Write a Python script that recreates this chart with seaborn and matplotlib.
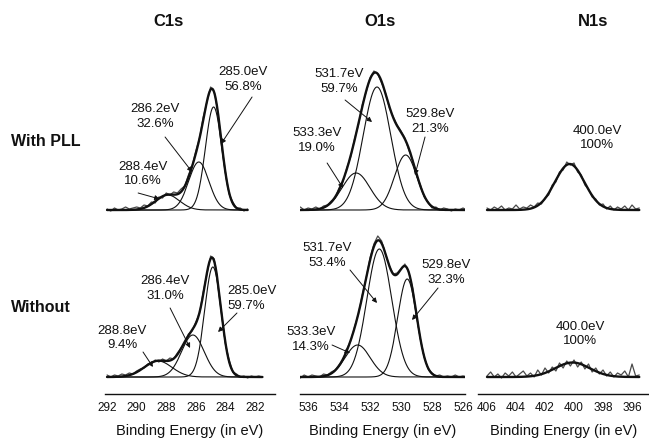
import numpy as np
import matplotlib
matplotlib.use("Agg")
import matplotlib.pyplot as plt
import seaborn as sns

# ------------------------------------------------------------------ data
step = 0.25
# raw (noisy) spectra, intensity in arbitrary units, sampled every 0.25 eV
c1s_pll_start = 292.0
c1s_pll_raw = [1, -1, 2, 0, 1, 3, 1, 2, 3, 2, 5, 4, 8, 7, 13, 12, 17, 15, 18, 17,
               21, 24, 35, 44, 59, 72, 93, 108, 123, 118, 97, 65, 38, 16, 8, 2, 2, -1, 1]
c1s_wo_start = 292.0
c1s_wo_raw = [2, 0, 2, 1, 3, 2, 4, 3, 6, 8, 9, 13, 13, 17, 15, 18, 16, 19, 18, 24,
              29, 34, 43, 46, 55, 64, 85, 103, 121, 118, 92, 63, 33, 17, 5, 3, 0, 1,
              -1, 1, 0, 1, 0]
o1s_pll_start = 536.75
o1s_pll_raw = [1, 3, 0, 2, 1, 3, 1, 4, 5, 9, 12, 22, 28, 42, 53, 71, 85, 105, 118, 132,
               139, 136, 127, 117, 102, 93, 85, 79, 72, 60, 50, 35, 25, 13, 8, 2, 3, 0,
               2, 1, -1, 1, 0, 2, 0]
o1s_wo_start = 536.75
o1s_wo_raw = [1, -1, 2, 0, 2, 1, 0, 3, 2, 5, 7, 12, 17, 28, 36, 50, 63, 82, 99, 119,
              133, 141, 136, 123, 111, 103, 104, 108, 113, 105, 89, 62, 38, 20, 8, 4,
              1, 2, 0, 1, 0, 2, 0, 1, 0]
n1s_pll_start = 406.0
n1s_pll_raw = [2, 0, 3, 1, 4, 0, 2, 1, 5, 1, 3, 2, 5, 3, 7, 6, 12, 15, 25, 28, 38, 40,
               48, 45, 47, 38, 35, 25, 21, 13, 11, 5, 6, 1, 4, 0, 3, 1, 4, 0, 5, 1, 2]
n1s_wo_start = 406.0
n1s_wo_raw = [1, 5, 0, 3, -1, 4, 1, 5, 0, 3, 6, 1, 4, 0, 7, 2, 9, 4, 10, 6, 14, 9, 16,
              11, 17, 10, 15, 8, 13, 5, 9, 3, 7, 1, 5, 0, 4, 2, 6, 0, 13, 1, 2]

# fitted components: centre (eV), height, FWHM (eV)
c1s_pll_centers = [284.8, 285.8, 287.9]
c1s_pll_heights = [103, 48, 15]
c1s_pll_fwhm = [1.3, 1.6, 1.9]
c1s_wo_centers = [284.85, 286.2, 288.55]
c1s_wo_heights = [110, 42, 16]
c1s_wo_fwhm = [1.3, 1.8, 2.2]
o1s_pll_centers = [531.55, 532.9, 529.7]
o1s_pll_heights = [123, 37, 55]
o1s_pll_fwhm = [2.1, 2.1, 1.7]
o1s_wo_centers = [531.4, 532.8, 529.6]
o1s_wo_heights = [128, 32, 98]
o1s_wo_fwhm = [1.9, 1.9, 1.45]
n1s_pll_centers = [400.3]
n1s_pll_heights = [46]
n1s_pll_fwhm = [2.4]
n1s_wo_centers = [400.1]
n1s_wo_heights = [14.5]
n1s_wo_fwhm = [2.8]

# peak labels
c1s_pll_labels = ["285.0eV\n56.8%", "286.2eV\n32.6%", "288.4eV\n10.6%"]
c1s_wo_labels = ["285.0eV\n59.7%", "286.4eV\n31.0%", "288.8eV\n9.4%"]
o1s_pll_labels = ["531.7eV\n59.7%", "533.3eV\n19.0%", "529.8eV\n21.3%"]
o1s_wo_labels = ["531.7eV\n53.4%", "533.3eV\n14.3%", "529.8eV\n32.3%"]
n1s_pll_labels = ["400.0eV\n100%"]
n1s_wo_labels = ["400.0eV\n100%"]

column_titles = ["C1s", "O1s", "N1s"]
row_titles = ["With PLL", "Without"]
xlabel = "Binding Energy (in eV)"
c1s_ticks = [292, 290, 288, 286, 284, 282]
o1s_ticks = [536, 534, 532, 530, 528, 526]
n1s_ticks = [406, 404, 402, 400, 398, 396]

# ------------------------------------------------------------------ layout
W, H = 649, 441
sns.set_style("white")
plt.rcParams["font.family"] = ["Liberation Sans", "DejaVu Sans"]
fig = plt.figure(figsize=(W / 100, H / 100), dpi=100)

col_px = [(105, 170, (292.14, 280.65)), (300, 165, (536.52, 525.87)),
          (478, 171, (406.62, 394.83))]
row_px = [(215, 150, (-5, 145)), (394, 162, (-17, 145))]

# annotation layout: (text x, text y, ha), arrow start, arrow tip  (data coords)
ann_layout = {
    (0, 0): [((282.81, 130.5, "center"), (282.2, 113), (284.3, 66)),
             ((288.76, 93.5, "center"), (288.08, 73), (286.25, 38)),
             ((289.6, 36, "center"), (289.9, 17), (288.45, 11))],
    (0, 1): [((534.0, 128.5, "center"), (533.61, 110), (531.87, 88)),
             ((535.42, 69.5, "center"), (534.77, 47), (533.74, 22)),
             ((528.13, 88.5, "center"), (528.45, 73), (529.1, 35))],
    (0, 2): [((398.41, 72, "center"), None, None)],
    (1, 0): [((283.85, 78.5, "left"), (283.22, 64), (284.5, 45)),
             ((288.08, 88.5, "center"), (287.74, 69), (286.39, 29)),
             ((290.99, 39, "center"), (289.57, 25), (288.9, 10))],
    (1, 1): [((534.77, 121.5, "center"), (533.29, 107), (531.55, 74)),
             ((535.8, 37.5, "center"), (534.45, 32), (533.29, 24)),
             ((527.1, 104.5, "center"), (527.61, 89), (529.29, 57))],
    (1, 2): [((399.59, 43, "center"), None, None)],
}

panels = {
    (0, 0): (c1s_pll_start, c1s_pll_raw, c1s_pll_centers, c1s_pll_heights, c1s_pll_fwhm, c1s_pll_labels),
    (0, 1): (o1s_pll_start, o1s_pll_raw, o1s_pll_centers, o1s_pll_heights, o1s_pll_fwhm, o1s_pll_labels),
    (0, 2): (n1s_pll_start, n1s_pll_raw, n1s_pll_centers, n1s_pll_heights, n1s_pll_fwhm, n1s_pll_labels),
    (1, 0): (c1s_wo_start, c1s_wo_raw, c1s_wo_centers, c1s_wo_heights, c1s_wo_fwhm, c1s_wo_labels),
    (1, 1): (o1s_wo_start, o1s_wo_raw, o1s_wo_centers, o1s_wo_heights, o1s_wo_fwhm, o1s_wo_labels),
    (1, 2): (n1s_wo_start, n1s_wo_raw, n1s_wo_centers, n1s_wo_heights, n1s_wo_fwhm, n1s_wo_labels),
}
ticks = [c1s_ticks, o1s_ticks, n1s_ticks]

ink = "#111111"
for (r, c), (start, raw, cen, hts, fw, labels) in panels.items():
    left, width, xlim = col_px[c]
    bottom, height, ylim = row_px[r]
    ax = fig.add_axes([left / W, 1 - bottom / H, width / W, height / H])
    energy = start - step * np.arange(len(raw))
    fine = np.linspace(energy.min(), energy.max(), 800)
    comps = [h * np.exp(-4 * np.log(2) * (fine - c0) ** 2 / w ** 2)
             for c0, h, w in zip(cen, hts, fw)]
    sns.lineplot(x=energy, y=raw, ax=ax, color="#4a4a4a", lw=0.9,
                 estimator=None, sort=False, legend=False)
    if len(comps) > 1:
        for comp in comps:
            sns.lineplot(x=fine, y=comp, ax=ax, color=ink, lw=0.8,
                         estimator=None, sort=False, legend=False)
    sns.lineplot(x=fine, y=np.sum(comps, axis=0), ax=ax, color=ink, lw=1.7,
                 estimator=None, sort=False, legend=False)
    ax.set_xlim(*xlim)
    ax.set_ylim(*ylim)
    ax.set_yticks([])
    ax.set_ylabel("")
    for lab, ((tx, ty, ha), a0, a1) in zip(labels, ann_layout[(r, c)]):
        ax.text(tx, ty, lab, ha=ha, va="center", fontsize=9.5, color=ink,
                linespacing=1.25, multialignment=ha)
        if a0 is not None:
            ax.annotate("", xy=a1, xytext=a0,
                        arrowprops=dict(arrowstyle="-|>", color=ink, lw=0.7,
                                        mutation_scale=7, shrinkA=0, shrinkB=0))
    if r == 0:
        sns.despine(ax=ax, left=True, bottom=True)
        ax.set_xticks([])
        ax.set_xlabel("")
    else:
        sns.despine(ax=ax, left=True)
        ax.spines["bottom"].set_linewidth(1.0)
        ax.spines["bottom"].set_color(ink)
        ax.set_xticks(ticks[c])
        ax.tick_params(axis="x", direction="out", length=4, width=1.0,
                       color=ink, labelsize=8.5, pad=2, labelcolor=ink)
        ax.set_xlabel(xlabel, fontsize=10.5, labelpad=7, color=ink)
    ax.patch.set_alpha(0)

for title, xpx in zip(column_titles, [168, 380, 593]):
    fig.text(xpx / W, 1 - 22 / H, title, ha="center", va="center",
             fontsize=12, fontweight="bold", color=ink)
for title, ypx in zip(row_titles, [141, 307]):
    fig.text(11 / W, 1 - ypx / H, title, ha="left", va="center",
             fontsize=11.5, fontweight="bold", color=ink)

fig.savefig("out.png", dpi=100)
